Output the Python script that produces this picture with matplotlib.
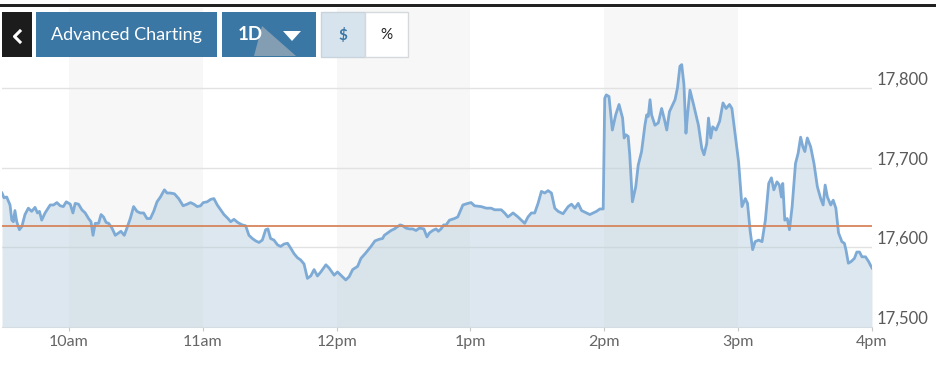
import numpy as np
import matplotlib
matplotlib.use("Agg")
import matplotlib.pyplot as plt
from matplotlib.patches import Rectangle, Polygon
from matplotlib.lines import Line2D

plt.rcParams['font.family'] = ['Lato', 'DejaVu Sans']

# minutes after 9:30 and index level
minutes = [0, 0.9, 2.1, 3.6, 4.4, 5.1, 5.8, 6.6, 7.8, 8.9, 10.3, 11.8, 13.3, 14.8, 15.9, 16.8,
           17.8, 19.3, 21.6, 23.1, 24.6, 26.1, 27.5, 28.8, 30.6, 31.8, 32.8, 34.3, 35.8, 37.3,
           38.8, 39.9, 40.8, 41.8, 43.3, 44.4, 45.5, 46.7, 47.8, 49.3, 50.8, 52.3, 53.3, 54.8,
           56.0, 57.5, 59.0, 60.5, 62.0, 63.5, 65.0, 66.5, 68.0, 69.5, 71.0, 72.8, 74.0, 75.5,
           77.3, 79.2, 81.2, 83.0, 84.5, 86.0, 87.5, 89.0, 90.2, 92.0, 93.5, 95.0, 96.5, 98.0,
           99.5, 101.3, 102.5, 104.0, 105.7, 107.7, 109.2, 110.7, 112.2, 113.7, 115.2, 116.7,
           118.2, 119.2, 120.4, 121.9, 123.5, 124.9, 126.4, 128.0, 129.4, 130.9, 132.4, 133.9,
           135.4, 136.9, 138.4, 139.9, 141.4, 142.9, 145.2, 146.6, 148.9, 150.4, 151.9, 154.1,
           155.6, 157.2, 159.4, 160.9, 163.1, 165.4, 167.2, 169.1, 170.6, 171.4, 172.9, 174.4,
           175.9, 177.4, 178.5, 179.6, 181.1, 182.6, 184.1, 185.6, 187.1, 189.1, 190.5, 191.6,
           193.1, 194.6, 195.6, 196.8, 198.0, 199.1, 200.6, 202.8, 204.3, 206.6, 208.8, 210.3,
           211.8, 214.8, 217.1, 219.3, 220.8, 223.8, 225.3, 226.8, 229.1, 231.3, 233.6, 234.3,
           235.8, 237.3, 238.8, 240.3, 241.8, 243.3, 244.8, 246.3, 247.8, 249.3, 251.5, 253.8,
           255.3, 256.8, 258.3, 259.8, 262.0, 263.5, 265.0, 266.5, 268.0, 269.5, 270.2, 270.9,
           272.1, 273.6, 275.1, 276.6, 278.2, 278.9, 279.7, 280.7, 281.4, 282.6, 284.1, 285.2,
           286.7, 288.2, 289.0, 289.7, 290.5, 291.2, 292.7, 294.2, 295.7, 296.8, 298.0, 299.2,
           300.7, 301.7, 302.8, 303.9, 304.7, 305.7, 306.6, 307.3, 308.4, 310.0, 311.1, 312.2,
           313.7, 314.7, 315.9, 316.7, 317.7, 318.6, 320.1, 321.7, 323.2, 324.6, 326.1, 327.2,
           328.6, 330.2, 331.7, 333.2, 334.2, 335.4, 336.5, 337.6, 339.2, 340.7, 342.2, 343.7,
           344.9, 346.0, 347.4, 348.5, 349.4, 350.0, 350.9, 352.0, 353.0, 354.2, 355.7, 356.9,
           358.0, 359.0, 359.9, 361.0, 362.5, 364.0, 365.5, 367.0, 368.1, 369.0, 370.0, 371.5,
           372.6, 373.8, 375.0, 376.5, 377.6, 378.3, 379.4, 380.6, 382.1, 383.2, 384.4, 385.5,
           387.1, 388.5, 389.4, 390.0]
level = [17668, 17662, 17663, 17653, 17634, 17632, 17646, 17632, 17622, 17626, 17641, 17649,
         17645, 17650, 17643, 17645, 17634, 17643, 17653, 17653, 17656, 17652, 17651, 17657,
         17654, 17643, 17655, 17654, 17647, 17643, 17636, 17632, 17615, 17630, 17630, 17641,
         17638, 17631, 17630, 17624, 17615, 17618, 17620, 17615, 17624, 17636, 17651, 17645,
         17643, 17643, 17636, 17636, 17645, 17657, 17663, 17672, 17668, 17668, 17667, 17661,
         17652, 17654, 17656, 17654, 17651, 17652, 17656, 17657, 17660, 17661, 17653, 17647,
         17641, 17636, 17632, 17635, 17631, 17628, 17627, 17615, 17611, 17608, 17606, 17609,
         17622, 17623, 17611, 17609, 17603, 17601, 17604, 17605, 17599, 17592, 17587, 17584,
         17579, 17561, 17564, 17572, 17564, 17569, 17578, 17574, 17565, 17569, 17565, 17559,
         17563, 17572, 17576, 17586, 17593, 17601, 17608, 17610, 17611, 17615, 17618, 17621,
         17623, 17626, 17628, 17627, 17624, 17623, 17623, 17621, 17624, 17623, 17613, 17618,
         17621, 17623, 17620, 17623, 17628, 17628, 17634, 17636, 17638, 17653, 17655, 17656,
         17652, 17651, 17649, 17649, 17647, 17647, 17643, 17638, 17643, 17638, 17632, 17630,
         17638, 17643, 17643, 17655, 17670, 17668, 17671, 17668, 17649, 17645, 17642, 17651,
         17654, 17649, 17655, 17646, 17643, 17641, 17643, 17645, 17648, 17648, 17787, 17791,
         17789, 17747, 17766, 17779, 17762, 17737, 17741, 17739, 17716, 17657, 17676, 17703,
         17720, 17753, 17766, 17764, 17785, 17766, 17753, 17756, 17774, 17762, 17747, 17770,
         17779, 17785, 17800, 17827, 17829, 17804, 17743, 17766, 17797, 17779, 17766, 17753,
         17724, 17716, 17730, 17762, 17737, 17751, 17747, 17758, 17781, 17774, 17779, 17774,
         17743, 17707, 17651, 17661, 17655, 17620, 17597, 17607, 17609, 17607, 17634, 17680,
         17687, 17672, 17682, 17678, 17663, 17680, 17634, 17636, 17622, 17651, 17705, 17718,
         17738, 17726, 17720, 17737, 17726, 17705, 17676, 17661, 17653, 17678, 17663, 17653,
         17659, 17649, 17618, 17607, 17605, 17597, 17580, 17582, 17586, 17594, 17594, 17588,
         17588, 17582, 17577, 17574]
prev_close = 17627
hour_ticks = [10, 11, 12, 13, 14, 15, 16]
hour_labels = ['10am', '11am', '12pm', '1pm', '2pm', '3pm', '4pm']
y_ticks = [17500, 17600, 17700, 17800]
y_labels = ['17,500', '17,600', '17,700', '17,800']

W, H = 948, 386
fig = plt.figure(figsize=(W / 100, H / 100), dpi=100)
ax = fig.add_axes([2 / W, 59 / H, 870 / W, 319 / H])

hours = 9.5 + np.array(minutes) / 60.0
ymin, ymax = 17500, 17900

# alternating hour bands
for h0 in [10, 12, 14]:
    ax.axvspan(h0, h0 + 1, color='#f7f7f7', zorder=0, lw=0)

for v in y_ticks[1:]:
    ax.axhline(v, color='#e2e2e2', lw=1.0, zorder=1)

ax.fill_between(hours, level, ymin, color='#afc8d9', alpha=0.42, lw=0, zorder=2)
ax.plot(hours, level, color='#7eaad6', lw=2.0, zorder=3, solid_joinstyle='round')
ax.axhline(prev_close, color='#d6855c', lw=1.3, zorder=4)

ax.set_xlim(9.5, 16)
ax.set_ylim(ymin, ymax)
for s in ['top', 'left', 'right']:
    ax.spines[s].set_visible(False)
ax.spines['bottom'].set_color('#d6dde2')
ax.spines['bottom'].set_linewidth(0.8)
ax.set_yticks([])
ax.set_xticks(hour_ticks)
ax.set_xticklabels(hour_labels, fontsize=11.5, color='#666666')
ax.tick_params(axis='x', length=3, width=0.8, color='#c8c8c8', pad=3)
ax.patch.set_alpha(0)

for v, lab in zip(y_ticks, y_labels):
    ax.annotate(lab, xy=(1, v), xycoords=('axes fraction', 'data'),
                xytext=(3, 6), textcoords='offset points',
                va='center', ha='left', fontsize=12, color='#5a5a5a')


def px_rect(x0, y0, x1, y1, **kw):
    fig.add_artist(Rectangle((x0 / W, 1 - y1 / H), (x1 - x0) / W, (y1 - y0) / H,
                             transform=fig.transFigure, **kw))


def px_text(x, y, s, **kw):
    fig.text(x / W, 1 - y / H, s, ha='center', va='center', **kw)


# top rule
px_rect(0, 4, 936, 7, color='#222222', lw=0)

# toolbar buttons
btn = '#3b77a5'
px_rect(2, 12, 32, 57, color='#1c1c1c', lw=0)
fig.add_artist(Line2D([20 / W, 14.5 / W, 20 / W],
                      [1 - 31 / H, 1 - 36.5 / H, 1 - 42 / H],
                      color='white', lw=2.2, transform=fig.transFigure))
px_rect(36, 12, 217, 57, color=btn, lw=0)
px_text(126.5, 35, 'Advanced Charting', color='white', fontsize=13)
px_rect(222, 12, 316, 57, color=btn, lw=0)
px_text(250, 35, '1D', color='white', fontsize=13.5, fontweight='bold')
fig.add_artist(Polygon([(262 / W, 1 - 26 / H), (296 / W, 1 - 56 / H), (254 / W, 1 - 56 / H)],
                       closed=True, color='#b4b8bd', alpha=0.6, lw=0,
                       transform=fig.transFigure))
fig.add_artist(Polygon([(283 / W, 1 - 31 / H), (301 / W, 1 - 31 / H), (292 / W, 1 - 41 / H)],
                       closed=True, color='white', lw=0, transform=fig.transFigure))
px_rect(321, 12, 365, 57, facecolor='#d7e4ee', edgecolor='#c9d3db', lw=1)
px_rect(365, 12, 408, 57, facecolor='white', edgecolor='#d5d9dc', lw=1)
px_text(343, 35, '$', color='#3b77a5', fontsize=11, fontweight='bold')
px_text(386.5, 35, '%', color='#222222', fontsize=11)

fig.savefig('out.png', dpi=100)
